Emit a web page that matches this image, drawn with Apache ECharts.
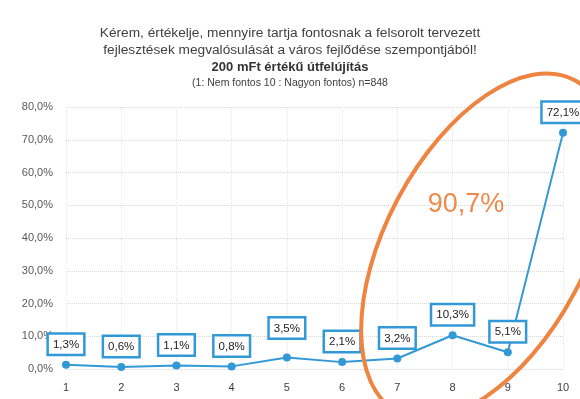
<!DOCTYPE html>
<html>
<head>
<meta charset="utf-8">
<script src="https://cdn.jsdelivr.net/npm/echarts@6/dist/echarts.min.js"></script>
<style>
html,body{margin:0;padding:0;background:#fff;}
#c{width:580px;height:399px;}
</style>
</head>
<body>
<div id="c"></div>
<script>
var titleLines = [
  'Kérem, értékelje, mennyire tartja fontosnak a felsorolt tervezett',
  'fejlesztések megvalósulását a város fejlődése szempontjából!',
  '200 mFt értékű útfelújítás',
  '(1: Nem fontos 10 : Nagyon fontos) n=848'
];
var categories = ['1','2','3','4','5','6','7','8','9','10'];
var values = [1.3, 0.6, 1.1, 0.8, 3.5, 2.1, 3.2, 10.3, 5.1, 72.1];
var yTicks = [0, 10, 20, 30, 40, 50, 60, 70, 80];
var annotationText = '90,7%';

function fmt(v){ return v.toFixed(1).replace('.', ',') + '%'; }

var chart = echarts.init(document.getElementById('c'), null, {renderer:'canvas'});
var ff = '"Liberation Sans", Arial, sans-serif';
var blue = '#3399d6';

var seriesData = values.map(function(v, i){
  var item = {value: v};
  if (i === 4) item.label = {distance: 16};
  return item;
});

chart.setOption({
  animation: false,
  backgroundColor: '#fff',
  title: [
    {text: titleLines[0] + '\n' + titleLines[1], left: 'center', top: 20,
     textStyle: {fontFamily: ff, fontSize: 13.7, fontWeight: 'normal', color: '#404040', lineHeight: 16.5}},
    {text: titleLines[2], left: 'center', top: 55,
     textStyle: {fontFamily: ff, fontSize: 13, fontWeight: 'bold', color: '#333', lineHeight: 15}},
    {text: titleLines[3], left: 'center', top: 72,
     textStyle: {fontFamily: ff, fontSize: 10.5, fontWeight: 'normal', color: '#404040', lineHeight: 12}}
  ],
  grid: {left: 66, right: 17, top: 107, bottom: 30, containLabel: false},
  xAxis: {
    type: 'category', data: categories, boundaryGap: false,
    axisLine: {show: false}, axisTick: {show: false},
    axisLabel: {fontFamily: ff, fontSize: 11, color: '#404040', margin: 13},
    splitLine: {show: true, lineStyle: {color: '#e6e6e6', type: 'dotted', width: 1}}
  },
  yAxis: {
    type: 'value', min: yTicks[0], max: yTicks[yTicks.length-1], interval: yTicks[1]-yTicks[0],
    axisLine: {show: false}, axisTick: {show: false},
    axisLabel: {fontFamily: ff, fontSize: 11, color: '#595959', margin: 13, formatter: function(v){ return fmt(v); }},
    splitLine: {show: true, lineStyle: {color: '#d6d6d6', type: 'dotted', width: 1}}
  },
  series: [{
    type: 'line', data: seriesData,
    symbol: 'circle', symbolSize: 8,
    lineStyle: {color: blue, width: 2},
    itemStyle: {color: blue},
    label: {
      show: true, position: 'top', distance: 7,
      formatter: function(p){ return fmt(p.value); },
      fontFamily: ff, fontSize: 11.5, color: '#222',
      backgroundColor: '#fff', borderColor: blue, borderWidth: 2.5,
      padding: [4, 4, 3, 4]
    }
  }],
  graphic: [
    {type: 'ellipse', x: 486, y: 246, rotation: 62 * Math.PI / 180,
     shape: {cx: 0, cy: 0, rx: 188, ry: 100},
     style: {fill: null, stroke: '#ee8440', lineWidth: 4}, z: 100, silent: true},
    {type: 'text', x: 466, y: 205,
     style: {text: annotationText, fontFamily: ff, fontSize: 27, fill: '#ee8a4c',
             textAlign: 'center', textVerticalAlign: 'middle'}, z: 100}
  ]
});
</script>
</body>
</html>
